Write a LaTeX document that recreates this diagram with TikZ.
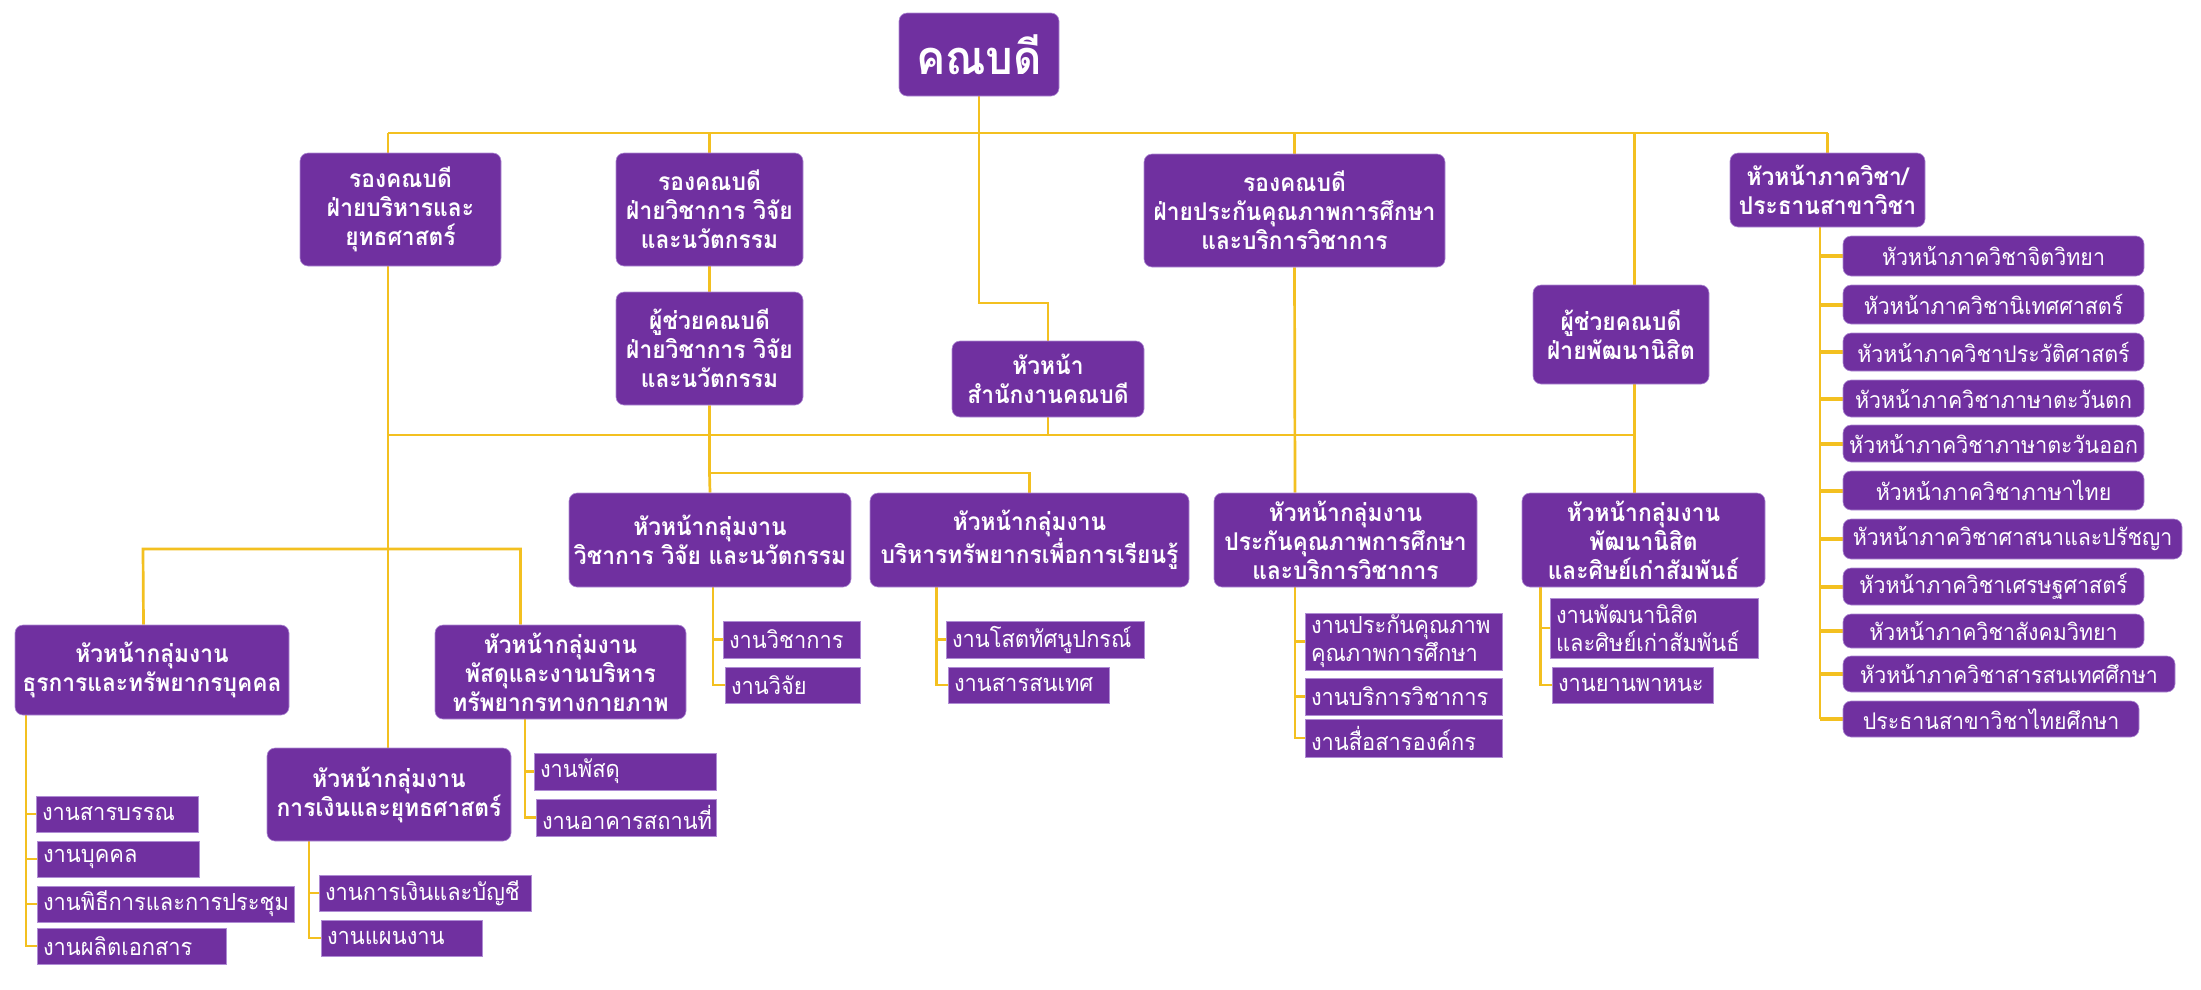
\documentclass[tikz,border=0pt]{standalone}
\usepackage{fontspec}
\newfontfamily\thai[Script=Thai,FakeStretch=0.93]{Loma}
\definecolor{pur}{RGB}{112,48,160}
\definecolor{purl}{RGB}{175,140,212}
\definecolor{yel}{RGB}{243,192,32}
\pgfdeclarelayer{background}
\pgfsetlayers{background,main}
\tikzset{
  head/.style={fill=pur, draw=purl, line width=0.6pt, rounded corners=8pt, text=white,
    font=\thai\bfseries\fontsize{24.5}{29}\selectfont, align=center, inner sep=0pt},
  rootbox/.style={font=\thai\bfseries\fontsize{47}{50}\selectfont},
  leaf/.style={fill=pur, draw=purl, line width=0.8pt, text=white,
    font=\thai\fontsize{23.5}{28}\selectfont, align=left, inner ysep=0pt, inner xsep=6pt},
  dept/.style={fill=pur, draw=purl, line width=0.6pt, rounded corners=8pt, text=white,
    font=\thai\fontsize{23}{28}\selectfont, align=center, inner sep=0pt},
  conn/.style={draw=yel, line width=2.7pt},
  stub/.style={draw=yel, line width=4pt},
}
\newcommand\headbox[7][]{\node[head,#1,minimum width={#5-#3},minimum height={#6-#4}] (#2) at ({(#3+#5)/2},{(#4+#6)/2}) {#7};}
\newcommand\leafbox[6]{\pgfmathsetmacro\lbtw{#4-#2-12}\node[leaf,minimum width={#4-#2},minimum height={#5-#3},text width=\lbtw pt] (#1) at ({(#2+#4)/2},{(#3+#5)/2}) {#6};}
\newcommand\deptbox[6]{\node[dept,minimum width={#4-#2},minimum height={#5-#3}] (#1) at ({(#2+#4)/2},{(#3+#5)/2}) {#6};}
\begin{document}
\begin{tikzpicture}[x=1pt,y=-1pt]
\useasboundingbox (0,0) rectangle (2201,989);
% heads
\headbox[rootbox]{root}{899}{13}{1059}{96}{คณบดี}
\headbox{L1a}{300}{153}{501}{266}{รองคณบดี\\ฝ่ายบริหารและ\\ยุทธศาสตร์}
\headbox{L1b}{616}{153}{803}{266}{รองคณบดี\\ฝ่ายวิชาการ วิจัย\\และนวัตกรรม}
\headbox{L1c}{1144}{154}{1445}{267}{รองคณบดี\\ฝ่ายประกันคุณภาพการศึกษา\\และบริการวิชาการ}
\headbox{L1d}{1533}{285}{1709}{384}{ผู้ช่วยคณบดี\\ฝ่ายพัฒนานิสิต}
\headbox{L1e}{1730}{153}{1925}{227}{หัวหน้าภาควิชา/\\ประธานสาขาวิชา}
\headbox{asst}{616}{292}{803}{405}{ผู้ช่วยคณบดี\\ฝ่ายวิชาการ วิจัย\\และนวัตกรรม}
\headbox{office}{952}{341}{1144}{417}{หัวหน้า\\สำนักงานคณบดี}
\headbox{wichakan}{569}{493}{851}{587}{หัวหน้ากลุ่มงาน\\วิชาการ วิจัย และนวัตกรรม}
\headbox{sapayakorn}{870}{493}{1189}{587}{หัวหน้ากลุ่มงาน\\บริหารทรัพยากรเพื่อการเรียนรู้}
\headbox{prakan}{1214}{493}{1477}{587}{หัวหน้ากลุ่มงาน\\ประกันคุณภาพการศึกษา\\และบริการวิชาการ}
\headbox{patana}{1522}{493}{1765}{587}{หัวหน้ากลุ่มงาน\\พัฒนานิสิต\\และศิษย์เก่าสัมพันธ์}
\headbox{turakan}{15}{625}{289}{715}{หัวหน้ากลุ่มงาน\\ธุรการและทรัพยากรบุคคล}
\headbox{pasadu}{435}{625}{686}{719}{หัวหน้ากลุ่มงาน\\พัสดุและงานบริหาร\\ทรัพยากรทางกายภาพ}
\headbox{karngern}{267}{748}{511}{841}{หัวหน้ากลุ่มงาน\\การเงินและยุทธศาสตร์}
% leaves
\leafbox{l1}{36}{796}{198}{832}{งานสารบรรณ}
\leafbox{l2}{37}{841}{199}{877}{งานบุคคล}
\leafbox{l3}{37}{886}{294}{922}{งานพิธีการและการประชุม}
\leafbox{l4}{37}{928}{226}{964}{งานผลิตเอกสาร}
\leafbox{k1}{319}{875}{531}{911}{งานการเงินและบัญชี}
\leafbox{k2}{321}{920}{482}{956}{งานแผนงาน}
\leafbox{p1}{534}{753}{716}{790}{งานพัสดุ}
\leafbox{p2}{536}{799}{716}{836}{งานอาคารสถานที่}
\leafbox{w1}{723}{621}{860}{658}{งานวิชาการ}
\leafbox{w2}{725}{667}{860}{703}{งานวิจัย}
\leafbox{s1}{946}{621}{1144}{658}{งานโสตทัศนูปกรณ์}
\leafbox{s2}{948}{667}{1109}{703}{งานสารสนเทศ}
\leafbox{q1}{1305}{613}{1502}{670}{งานประกันคุณภาพ\\คุณภาพการศึกษา}
\leafbox{q2}{1305}{678}{1502}{715}{งานบริการวิชาการ}
\leafbox{q3}{1305}{719}{1502}{757}{งานสื่อสารองค์กร}
\leafbox{t1}{1550}{598}{1758}{658}{งานพัฒนานิสิต\\และศิษย์เก่าสัมพันธ์}
\leafbox{t2}{1552}{667}{1713}{703}{งานยานพาหนะ}
% departments
\deptbox{d1}{1843}{236}{2144}{276}{หัวหน้าภาควิชาจิตวิทยา}
\deptbox{d2}{1843}{285}{2144}{324}{หัวหน้าภาควิชานิเทศศาสตร์}
\deptbox{d3}{1843}{333}{2144}{371}{หัวหน้าภาควิชาประวัติศาสตร์}
\deptbox{d4}{1843}{380}{2144}{417}{หัวหน้าภาควิชาภาษาตะวันตก}
\deptbox{d5}{1843}{425}{2144}{462}{หัวหน้าภาควิชาภาษาตะวันออก}
\deptbox{d6}{1843}{471}{2144}{510}{หัวหน้าภาควิชาภาษาไทย}
\deptbox{d7}{1843}{519}{2182}{559}{หัวหน้าภาควิชาศาสนาและปรัชญา}
\deptbox{d8}{1843}{568}{2144}{605}{หัวหน้าภาควิชาเศรษฐศาสตร์}
\deptbox{d9}{1843}{614}{2144}{648}{หัวหน้าภาควิชาสังคมวิทยา}
\deptbox{d10}{1843}{656}{2175}{692}{หัวหน้าภาควิชาสารสนเทศศึกษา}
\deptbox{d11}{1843}{701}{2139}{737}{ประธานสาขาวิชาไทยศึกษา}
% junction coordinates
\coordinate (b1L) at (388,133);
\coordinate (b1R) at (1827.5,133);
\coordinate (rk) at (979,303);
\coordinate (b2L) at (388,435);
\coordinate (b2R) at (1634.5,435);
\coordinate (a3) at (709.5,473);
\coordinate (b3L) at (143,549);
\coordinate (b3R) at (520.5,549);
\coordinate (tsp) at (26,715);
\coordinate (ksp) at (309,841);
\coordinate (psp) at (525,719);
\coordinate (wsp) at (713,587);
\coordinate (ssp) at (936.5,587);
\coordinate (qsp) at (1295,587);
\coordinate (nsp) at (1540.5,587);
\coordinate (dsp) at (1820,227);
\begin{pgfonlayer}{background}
\fill[white] (0,0) rectangle (2201,989);
% top bus
\draw[conn] (b1L) -- (b1R);
\draw[conn] (root.south) -- (rk) -| (office.north);
\draw[conn] (b1L) -- ([xshift=-12.5pt]L1a.north);
\draw[conn] (L1b.north |- b1L) -- (L1b.north);
\draw[conn] (L1c.north |- b1L) -- (L1c.north);
\draw[conn] ([xshift=13.5pt]L1d.north |- b1L) -- ([xshift=13.5pt]L1d.north);
\draw[conn] (b1R) -- (L1e.north);
\draw[conn] (L1b.south) -- (asst.north);
% second bus
\draw[conn] (b2L) -- (b2R);
\draw[conn] (office.south) -- (office.south |- b2L);
\draw[conn] (asst.south) -- (a3) -- (wichakan.north);
\draw[conn] (a3) -| (sapayakorn.north);
\draw[conn] (L1c.south) -- ([xshift=-50.5pt]prakan.north);
\draw[conn] ([xshift=13.5pt]L1d.south) -- ([xshift=-9pt]patana.north);
\draw[conn] ([xshift=-12.5pt]L1a.south) -- ([xshift=-1pt]karngern.north);
% third bus
\draw[conn] ([xshift=-8.5pt]turakan.north) -- (b3L) -- (b3R) -- ([xshift=-40pt]pasadu.north);
% leaf spines
\draw[conn] (tsp) |- (l4.west);
\foreach \n in {l1,l2,l3} \draw[conn] (tsp |- \n.west) -- (\n.west);
\draw[conn] (ksp) |- (k2.west);
\draw[conn] (ksp |- k1.west) -- (k1.west);
\draw[conn] (psp) |- (p2.west);
\draw[conn] (psp |- p1.west) -- (p1.west);
\draw[conn] (wsp) |- (w2.west);
\draw[conn] (wsp |- w1.west) -- (w1.west);
\draw[conn] (ssp) |- (s2.west);
\draw[conn] (ssp |- s1.west) -- (s1.west);
\draw[conn] (qsp) |- (q3.west);
\foreach \n in {q1,q2} \draw[conn] (qsp |- \n.west) -- (\n.west);
\draw[conn] (nsp) |- (t2.west);
\draw[conn] (nsp |- t1.west) -- (t1.west);
\draw[conn] (dsp) -- (dsp |- d11.west);
\foreach \n in {d1,d2,d3,d4,d5,d6,d7,d8,d9,d10,d11} \draw[stub] (dsp |- \n.west) -- (\n.west);
\end{pgfonlayer}
\end{tikzpicture}
\end{document}
